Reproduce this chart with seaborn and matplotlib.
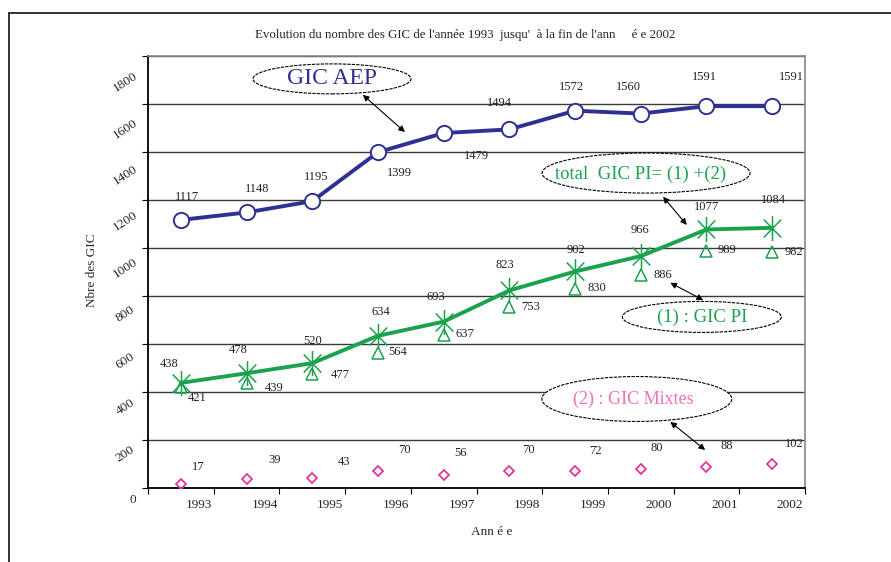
import matplotlib
matplotlib.use("Agg")
import matplotlib.pyplot as plt
from matplotlib.patches import Ellipse
from matplotlib.lines import Line2D
from matplotlib.path import Path
from matplotlib.transforms import ScaledTranslation
import pandas as pd
import seaborn as sns

# data
years = ["1993", "1994", "1995", "1996", "1997", "1998", "1999", "2000", "2001", "2002"]
gic_aep = [1117, 1148, 1195, 1399, 1479, 1494, 1572, 1560, 1591, 1591]
gic_pi_total = [438, 478, 520, 634, 693, 823, 902, 966, 1077, 1084]
gic_pi = [421, 439, 477, 564, 637, 753, 830, 886, 989, 982]
gic_mixtes = [17, 39, 43, 70, 56, 70, 72, 80, 88, 102]
y_ticks = [0, 200, 400, 600, 800, 1000, 1200, 1400, 1600, 1800]

df = pd.DataFrame({"pos": range(len(years)), "annee": years, "aep": gic_aep,
                   "total": gic_pi_total, "pi": gic_pi, "mixtes": gic_mixtes})

sns.set_style("white")
plt.rcParams["font.family"] = ["Liberation Serif", "DejaVu Serif"]

blue = "#2E3192"
green = "#1BA24C"
pink = "#E6349A"
pink_txt = "#F072B4"

# asterisk like the excel one: vertical stroke + two diagonals
star = Path([(0, -1), (0, 1), (-0.7, -0.72), (0.7, 0.72), (-0.7, 0.72), (0.7, -0.72)],
            [Path.MOVETO, Path.LINETO, Path.MOVETO, Path.LINETO, Path.MOVETO, Path.LINETO])

fig = plt.figure(figsize=(8.91, 5.62), dpi=100)
ax = fig.add_axes([0.1661, 0.1317, 0.7374, 0.7687])

sns.lineplot(data=df, x="pos", y="aep", ax=ax, color=blue, lw=2.8, marker="o",
             markersize=11, markerfacecolor="white", markeredgecolor=blue,
             markeredgewidth=1.4, zorder=4)
sns.lineplot(data=df, x="pos", y="total", ax=ax, color=green, lw=2.8, marker=star,
             markersize=18, markeredgecolor=green, markeredgewidth=1.1, zorder=4)
sns.lineplot(data=df, x="pos", y="pi", ax=ax, linestyle="none", marker="^", markersize=8,
             markerfacecolor="none", markeredgecolor=green, markeredgewidth=1.1, zorder=3)
sns.lineplot(data=df, x="pos", y="mixtes", ax=ax, linestyle="none", marker="D", markersize=5,
             markerfacecolor="none", markeredgecolor=pink, markeredgewidth=1.3, zorder=3)

# value labels (offsets in pixels)
aep_off = [(6, 23), (11, 23), (4, 24), (21, -21), (33, -23), (-10, 26), (-4, 24), (-12, 27), (-2, 29), (19, 29)]
tot_off = [(-12, 19), (-8, 23), (0, 22), (3, 24), (-8, 25), (-4, 25), (1, 21), (-1, 26), (0, 22), (1, 28)]
pi_off = [(16, -11), (28, -5), (28, -1), (20, 1), (21, 1), (21, 0), (22, 1), (22, 0), (21, 1), (22, 0)]
mix_off = [(17, 17), (28, 19), (32, 16), (26, 21), (17, 22), (19, 21), (20, 20), (16, 21), (20, 21), (22, 20)]
for col, offs in [("aep", aep_off), ("total", tot_off), ("pi", pi_off), ("mixtes", mix_off)]:
    for i, (dx, dy) in enumerate(offs):
        ax.annotate(str(df[col][i]), (df["pos"][i], df[col][i]), xytext=(dx, dy),
                    textcoords="offset pixels", ha="center", va="center",
                    fontsize=9, color="#222222")

ax.set_xlim(-0.5, len(years) - 0.5)
ax.set_ylim(0, 1800)
ax.set_xticks([i - 0.5 for i in range(len(years) + 1)])
ax.set_xticklabels([])
ax.set_xticks(df["pos"], minor=True)
ax.set_xticklabels(years, minor=True, fontsize=9.5)
ax.tick_params(axis="x", which="major", direction="out", length=4, color="black", bottom=True)
ax.tick_params(axis="x", which="minor", length=0, pad=8)
for lab in ax.get_xticklabels(minor=True):
    lab.set_transform(lab.get_transform() + ScaledTranslation(0.18, 0, fig.dpi_scale_trans))

ax.set_yticks(y_ticks)
ax.set_yticklabels([str(v) for v in y_ticks], fontsize=9.5)
ax.tick_params(axis="y", direction="out", length=4, pad=0, color="black", left=True)
for i, lab in enumerate(ax.get_yticklabels()):
    lab.set_ha("center")
    lab.set_va("center")
    lab.set_rotation(0 if i == 0 else 33)
    lab.set_rotation_mode("anchor")
    dx = 0.10 if i == 0 else 0.17
    dy = (12 + 1.6 * i) / 100
    lab.set_transform(lab.get_transform() + ScaledTranslation(-dx, -dy, fig.dpi_scale_trans))

ax.grid(axis="y", color="#3a3a3a", lw=1.0)
ax.grid(axis="x", visible=False)
for side in ["left", "bottom"]:
    ax.spines[side].set_color("black")
    ax.spines[side].set_linewidth(1.3)
for side in ["top", "right"]:
    ax.spines[side].set_visible(True)
    ax.spines[side].set_color("#888888")
    ax.spines[side].set_linewidth(1.2)
ax.set_xlabel("")
ax.set_ylabel("")

# legend ellipses with arrows
bubbles = [
    ("GIC AEP", blue, 17, (0.280, 0.947), 0.2405, 0.0694, (0.280, 0.949)),
    ("total  GIC PI= (1) +(2)", green, 13.5, (0.758, 0.729), 0.3166, 0.0926, (0.749, 0.725)),
    ("(1) : GIC PI", green, 13.5, (0.843, 0.396), 0.242, 0.0718, (0.843, 0.394)),
    ("(2) : GIC Mixtes", pink_txt, 13, (0.744, 0.206), 0.289, 0.104, (0.738, 0.206)),
]
for txt, col, fs, c, w, h, tpos in bubbles:
    ax.add_patch(Ellipse(c, w, h, transform=ax.transAxes, facecolor="white",
                         edgecolor="black", lw=0.8, linestyle=(0, (3, 1)), zorder=5))
    ax.text(tpos[0], tpos[1], txt, transform=ax.transAxes, color=col, fontsize=fs,
            ha="center", va="center", zorder=6)

arrows = [((0.327, 0.910), (0.391, 0.824)), ((0.784, 0.674), (0.820, 0.609)),
          ((0.795, 0.475), (0.845, 0.435)), ((0.795, 0.153), (0.848, 0.088))]
for a, b in arrows:
    ax.annotate("", xy=b, xytext=a, xycoords="axes fraction", textcoords="axes fraction",
                arrowprops=dict(arrowstyle="<|-|>", color="black", lw=0.8,
                                mutation_scale=9, shrinkA=0, shrinkB=0), zorder=6)

fig.text(0.522, 0.938, "Evolution du nombre des GIC de l'année 1993  jusqu'  à la fin de l'ann     é e 2002",
         ha="center", va="center", fontsize=9.3, color="#222222")
fig.text(0.103, 0.52, "Nbre des GIC", rotation=90, ha="center", va="center", fontsize=9.5)
fig.text(0.552, 0.053, "Ann é e", ha="center", va="center", fontsize=9.5)

# outer frame of the original document
fig.add_artist(Line2D([0.0101, 0.0101], [0.0, 0.9769], color="#222222", lw=1.3))
fig.add_artist(Line2D([0.0101, 1.0], [0.9769, 0.9769], color="#222222", lw=1.3))

fig.savefig("out.png", dpi=100)
plt.close(fig)
